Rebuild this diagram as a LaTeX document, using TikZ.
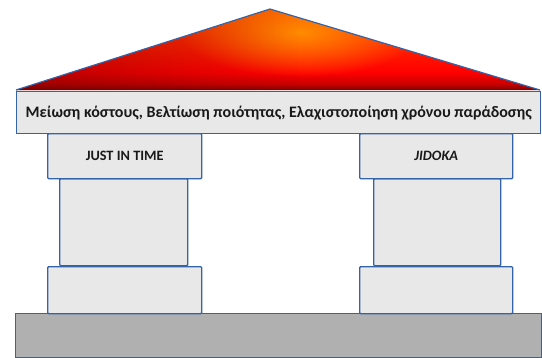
\documentclass[tikz,border=0pt]{standalone}
\usepackage{fontspec}
\setmainfont{Carlito}
\usetikzlibrary{shadings,fadings}
\definecolor{edgeblue}{HTML}{3563A8}
\definecolor{boxgray}{HTML}{E8E8E8}
\definecolor{groundgray}{HTML}{B0B0B0}
\pgfdeclareverticalshading{roofshade}{100bp}{
  color(0bp)=(black!50!red);
  color(25bp)=(black!50!red);
  color(29bp)=(red!80!black);
  color(36bp)=(red);
  color(52bp)=(red!75!orange);
  color(75bp)=(red!40!orange);
  color(100bp)=(red!40!orange)}
\tikzfading[name=softglow, inner color=transparent!0, outer color=transparent!100]
\begin{document}
\begin{tikzpicture}[x=1pt,y=-1pt,
  part/.style={draw=edgeblue,line width=1.4pt,fill=boxgray,rounded corners=1pt},
  lbl/.style={text=black!90}]
\useasboundingbox (0,0) rectangle (542,357);
% roof
\begin{scope}
\clip (16,90) -- (270,9) -- (540,90) -- cycle;
\shade[shading=roofshade] (16,90) -- (270,9) -- (540,90) -- cycle;
\fill[orange!90!yellow,path fading=softglow] (300,32) ellipse (120pt and 45pt);
\fill[black!60!red,path fading=east,opacity=0.45] (16,9) rectangle (300,92);
\end{scope}
\draw[edgeblue,line width=1.2pt,line join=round] (16,90) -- (270,9) -- (540,90);
% ground
\node[draw=edgeblue,line width=1.2pt,fill=groundgray,minimum width=526pt,minimum height=44pt,inner sep=0pt,anchor=north west] (ground) at (15,313) {};
% left pillar
\node[part,minimum width=128pt,minimum height=87pt,inner sep=0pt,anchor=north west] (lshaft) at (59,178) {};
\node[part,minimum width=154pt,minimum height=47pt,inner sep=0pt,anchor=north west] (lbase) at (47,266) {};
\node[part,minimum width=154pt,minimum height=45pt,inner sep=0pt,anchor=north west] (lcap) at (47,133) {};
% right pillar
\node[part,minimum width=127pt,minimum height=87pt,inner sep=0pt,anchor=north west] (rshaft) at (373,178) {};
\node[part,minimum width=153pt,minimum height=47pt,inner sep=0pt,anchor=north west] (rbase) at (359,266) {};
\node[part,minimum width=153pt,minimum height=45pt,inner sep=0pt,anchor=north west] (rcap) at (359,133) {};
% band
\node[part,rounded corners=0pt,minimum width=524pt,minimum height=42pt,inner sep=0pt,anchor=north west] (band) at (16,91) {};
\node[lbl,font=\bfseries\fontsize{16}{18}\selectfont] (bandtext) at (band.center) {Μείωση κόστους, Βελτίωση ποιότητας, Ελαχιστοποίηση χρόνου παράδοσης};
\node[lbl,font=\bfseries\fontsize{14.3}{16}\selectfont] (jit) at (lcap.center) {JUST IN TIME};
\node[lbl,font=\bfseries\itshape\fontsize{14.3}{16}\selectfont] (jidoka) at (rcap.center) {JIDOKA};
\end{tikzpicture}
\end{document}
